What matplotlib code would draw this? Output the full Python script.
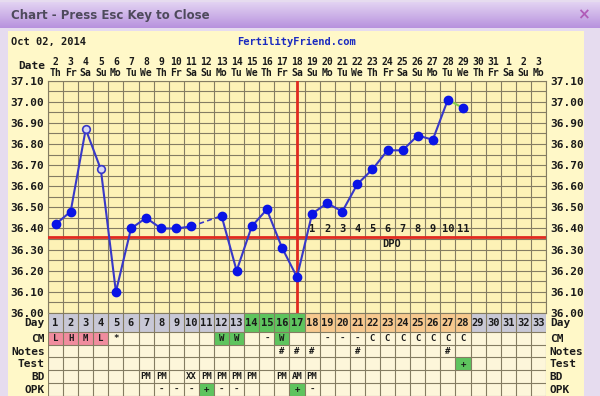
import numpy as np
import matplotlib
matplotlib.use("Agg")
import matplotlib.pyplot as plt
from matplotlib.patches import Rectangle

# ---- data ----
days = list(range(1, 34))
dates = [2, 3, 4, 5, 6, 7, 8, 9, 10, 11, 12, 13, 14, 15, 16, 17, 18, 19, 20,
         21, 22, 23, 24, 25, 26, 27, 28, 29, 30, 31, 1, 2, 3]
weekdays = ['Th', 'Fr', 'Sa', 'Su', 'Mo', 'Tu', 'We', 'Th', 'Fr', 'Sa', 'Su',
            'Mo', 'Tu', 'We', 'Th', 'Fr', 'Sa', 'Su', 'Mo', 'Tu', 'We', 'Th',
            'Fr', 'Sa', 'Su', 'Mo', 'Tu', 'We', 'Th', 'Fr', 'Sa', 'Su', 'Mo']

temp_days = [1, 2, 3, 4, 5, 6, 7, 8, 9, 10, 12, 13, 14, 15, 16, 17, 18, 19,
             20, 21, 22, 23, 24, 25, 26, 27, 28]
temps = [36.42, 36.48, 36.87, 36.68, 36.10, 36.40, 36.45, 36.40, 36.40, 36.41,
         36.46, 36.20, 36.41, 36.49, 36.31, 36.17, 36.47, 36.52, 36.48, 36.61,
         36.68, 36.77, 36.77, 36.84, 36.82, 37.01, 36.97]
open_days = [3, 4]
coverline = 36.36
ovulation_day = 17
dpo_days = [18, 19, 20, 21, 22, 23, 24, 25, 26, 27, 28]
dpo_labels = ['1', '2', '3', '4', '5', '6', '7', '8', '9', '10', '11']

yticks = [36.00, 36.10, 36.20, 36.30, 36.40, 36.50, 36.60, 36.70, 36.80,
          36.90, 37.00, 37.10]

day_row_color = ['g'] * 13 + ['G'] * 4 + ['o'] * 11 + ['g'] * 5
cm = ['L', 'H', 'M', 'L', '*', '', '', '', '', '', '', 'W', 'W', '', '-', 'W',
      '', '', '-', '-', '-', 'C', 'C', 'C', 'C', 'C', 'C', 'C', '', '', '', '', '']
cm_color = ['p', 'p', 'p', 'p', '', '', '', '', '', '', '', 'G', 'G', '', '',
            'G', '', '', '', '', '', '', '', '', '', '', '', '', '', '', '', '', '']
notes = [''] * 15 + ['#', '#', '#', '', '', '#', '', '', '', '', '', '#', '',
                     '', '', '', '', '', '']
test = [''] * 27 + ['+', '', '', '', '', '']
bd = ['', '', '', '', '', '', 'PM', 'PM', '', 'XX', 'PM', 'PM', 'PM', 'PM', '',
      'PM', 'AM', 'PM', '', '', '', '', '', '', '', '', '', '', '', '', '', '', '']
opk = ['', '', '', '', '', '', '', '-', '-', '-', '+', '-', '-', '', '', '',
       '+', '-', '', '', '', '', '', '', '', '', '', '', '', '', '', '', '']
row_names = ['Day', 'CM', 'Notes', 'Test', 'BD', 'OPK']

fill_colors = {'g': '#c8c8d6', 'G': '#5ec45e', 'o': '#f7c98f', 'p': '#f08c9e'}

W, H = 600, 396
MONO = 'DejaVu Sans Mono'


def box(x0, y0, x1, y1):
    return [x0 / W, 1 - y1 / H, (x1 - x0) / W, (y1 - y0) / H]


fig = plt.figure(figsize=(6, 3.96), dpi=100)
fig.patch.set_facecolor('#e6dcef')

# ---- window decoration ----
bg = fig.add_axes([0, 0, 1, 1])
bg.set_xlim(0, W)
bg.set_ylim(H, 0)
bg.axis('off')
grad = np.linspace(0, 1, 50).reshape(-1, 1)
cmap = matplotlib.colors.LinearSegmentedColormap.from_list('tb', ['#e2d3f2', '#b892de'])
bg.imshow(grad, cmap=cmap, extent=(0, W, 28, 2), aspect='auto')
bg.set_xlim(0, W)
bg.set_ylim(H, 0)
bg.add_patch(Rectangle((8, 31), 576, 370, facecolor='#fff8c8', edgecolor='none'))
bg.text(11, 15, 'Chart - Press Esc Key to Close', fontsize=8.5, fontweight='bold',
        color='#4e4a5c', va='center', ha='left')
bg.text(583, 15, '\u00d7', fontsize=11, fontweight='bold', color='#b05cb8',
        va='center', ha='center')
bg.text(11, 42, 'Oct 02, 2014', family=MONO, fontsize=7.5, fontweight='bold',
        color='#1a1a1a', va='center', ha='left')
bg.text(296, 42, 'FertilityFriend.com', family=MONO, fontsize=7.5,
        fontweight='bold', color='#1a2ac0', va='center', ha='center')
bg.text(45, 66, 'Date', family=MONO, fontsize=8, fontweight='bold',
        color='#1a1a1a', va='center', ha='right')

# ---- temperature chart ----
grid_c = '#847c62'
ax = fig.add_axes(box(48, 80.6, 546, 313))
ax.set_facecolor('#fdf2b6')
ax.set_xlim(0.5, 33.5)
ax.set_ylim(36.0, 37.1)
for x in np.arange(0.5, 34, 1):
    ax.axvline(x, color=grid_c, lw=0.8, zorder=1)
for y in np.arange(36.0, 37.11, 0.05):
    ax.axhline(y, color=grid_c, lw=0.8, zorder=1)
for s in ax.spines.values():
    s.set_color(grid_c)
    s.set_linewidth(0.8)

ax.set_yticks(yticks)
ax.set_yticklabels(['%.2f' % t for t in yticks], family=MONO, fontsize=8,
                   fontweight='bold', color='#1a1a1a')
ax.tick_params(axis='y', length=0, pad=3, labelleft=True, labelright=True)
ax.set_xticks(days)
ax.set_xticklabels(['%d\n%s' % (d, w) for d, w in zip(dates, weekdays)],
                   family=MONO, fontsize=7, fontweight='bold', color='#1a1a1a',
                   linespacing=1.05)
ax.tick_params(axis='x', length=0, pad=2, labeltop=True, labelbottom=False)

ax.axhline(coverline, color='#e02a20', lw=2, zorder=3)
ax.axvline(ovulation_day, color='#e02a20', lw=2, zorder=3)

# solid segments, with the gap at day 11 drawn dashed
split = temp_days.index(12)
ax.plot(temp_days[:split], temps[:split], color='#3838c8', lw=1.5, zorder=4)
ax.plot(temp_days[split - 1:split + 1], temps[split - 1:split + 1],
        color='#3838c8', lw=1.2, ls=(0, (3, 2)), zorder=4)
ax.plot(temp_days[split:-1], temps[split:-1], color='#3838c8', lw=1.5, zorder=4)
ax.plot(temp_days[-2:], temps[-2:], color='#86d04a', lw=1.5, zorder=4)
for d, t in zip(temp_days, temps):
    if d in open_days:
        ax.plot(d, t, 'o', ms=5.5, mfc='#d8d8f4', mec='#3838c8', mew=1.2, zorder=5)
    else:
        ax.plot(d, t, 'o', ms=6, mfc='#0a14e6', mec='#0a14e6', zorder=5)

for d, lab in zip(dpo_days, dpo_labels):
    ax.text(d, coverline + 0.013, lab, family=MONO, fontsize=7.5,
            fontweight='bold', color='#1a1a1a', ha='center', va='bottom', zorder=6)
ax.text(23.3, coverline - 0.012, 'DPO', family=MONO, fontsize=7.5,
        fontweight='bold', color='#1a1a1a', ha='center', va='top', zorder=6)

# ---- table under the chart ----
edges = [0, 19, 31.7, 44.4, 57.1, 69.8, 82.5]
tb = fig.add_axes(box(48, 313, 546, 396))
tb.set_xlim(0.5, 33.5)
tb.set_ylim(83, 0)
tb.axis('off')
tb.add_patch(Rectangle((0.5, 0), 33, 83, facecolor='#fdf6da', edgecolor='none',
                       zorder=0))

rows = [[str(d) for d in days], cm, notes, test, bd, opk]
row_fill = [day_row_color, cm_color, [''] * 33,
            ['G' if v == '+' else '' for v in test], [''] * 33,
            ['G' if v == '+' else '' for v in opk]]
for r, (vals, fills) in enumerate(zip(rows, row_fill)):
    top, bot = edges[r], edges[r + 1]
    mid = (top + bot) / 2
    for d, v, f in zip(days, vals, fills):
        if f:
            tb.bar(d, bot - top, bottom=top, width=1, color=fill_colors[f],
                   zorder=1)
        if v:
            tb.text(d, mid + 0.5, v, family=MONO, fontsize=7.5 if r == 0 else 6.5,
                    fontweight='bold', color='#1a1a1a', ha='center',
                    va='center', zorder=3)
    name = row_names[r]
    tb.text(0.3, mid + 0.5, name, family=MONO, fontsize=8, fontweight='bold',
            color='#1a1a1a', ha='right', va='center', clip_on=False)
    tb.text(33.75, mid + 0.5, name, family=MONO, fontsize=8, fontweight='bold',
            color='#1a1a1a', ha='left', va='center', clip_on=False)

tb.vlines(np.arange(0.5, 34, 1), 0, 83, color=grid_c, lw=0.8, zorder=2)
tb.hlines(edges, 0.5, 33.5, color=grid_c, lw=0.8, zorder=2)

fig.savefig('out.png', dpi=100, facecolor=fig.get_facecolor())
